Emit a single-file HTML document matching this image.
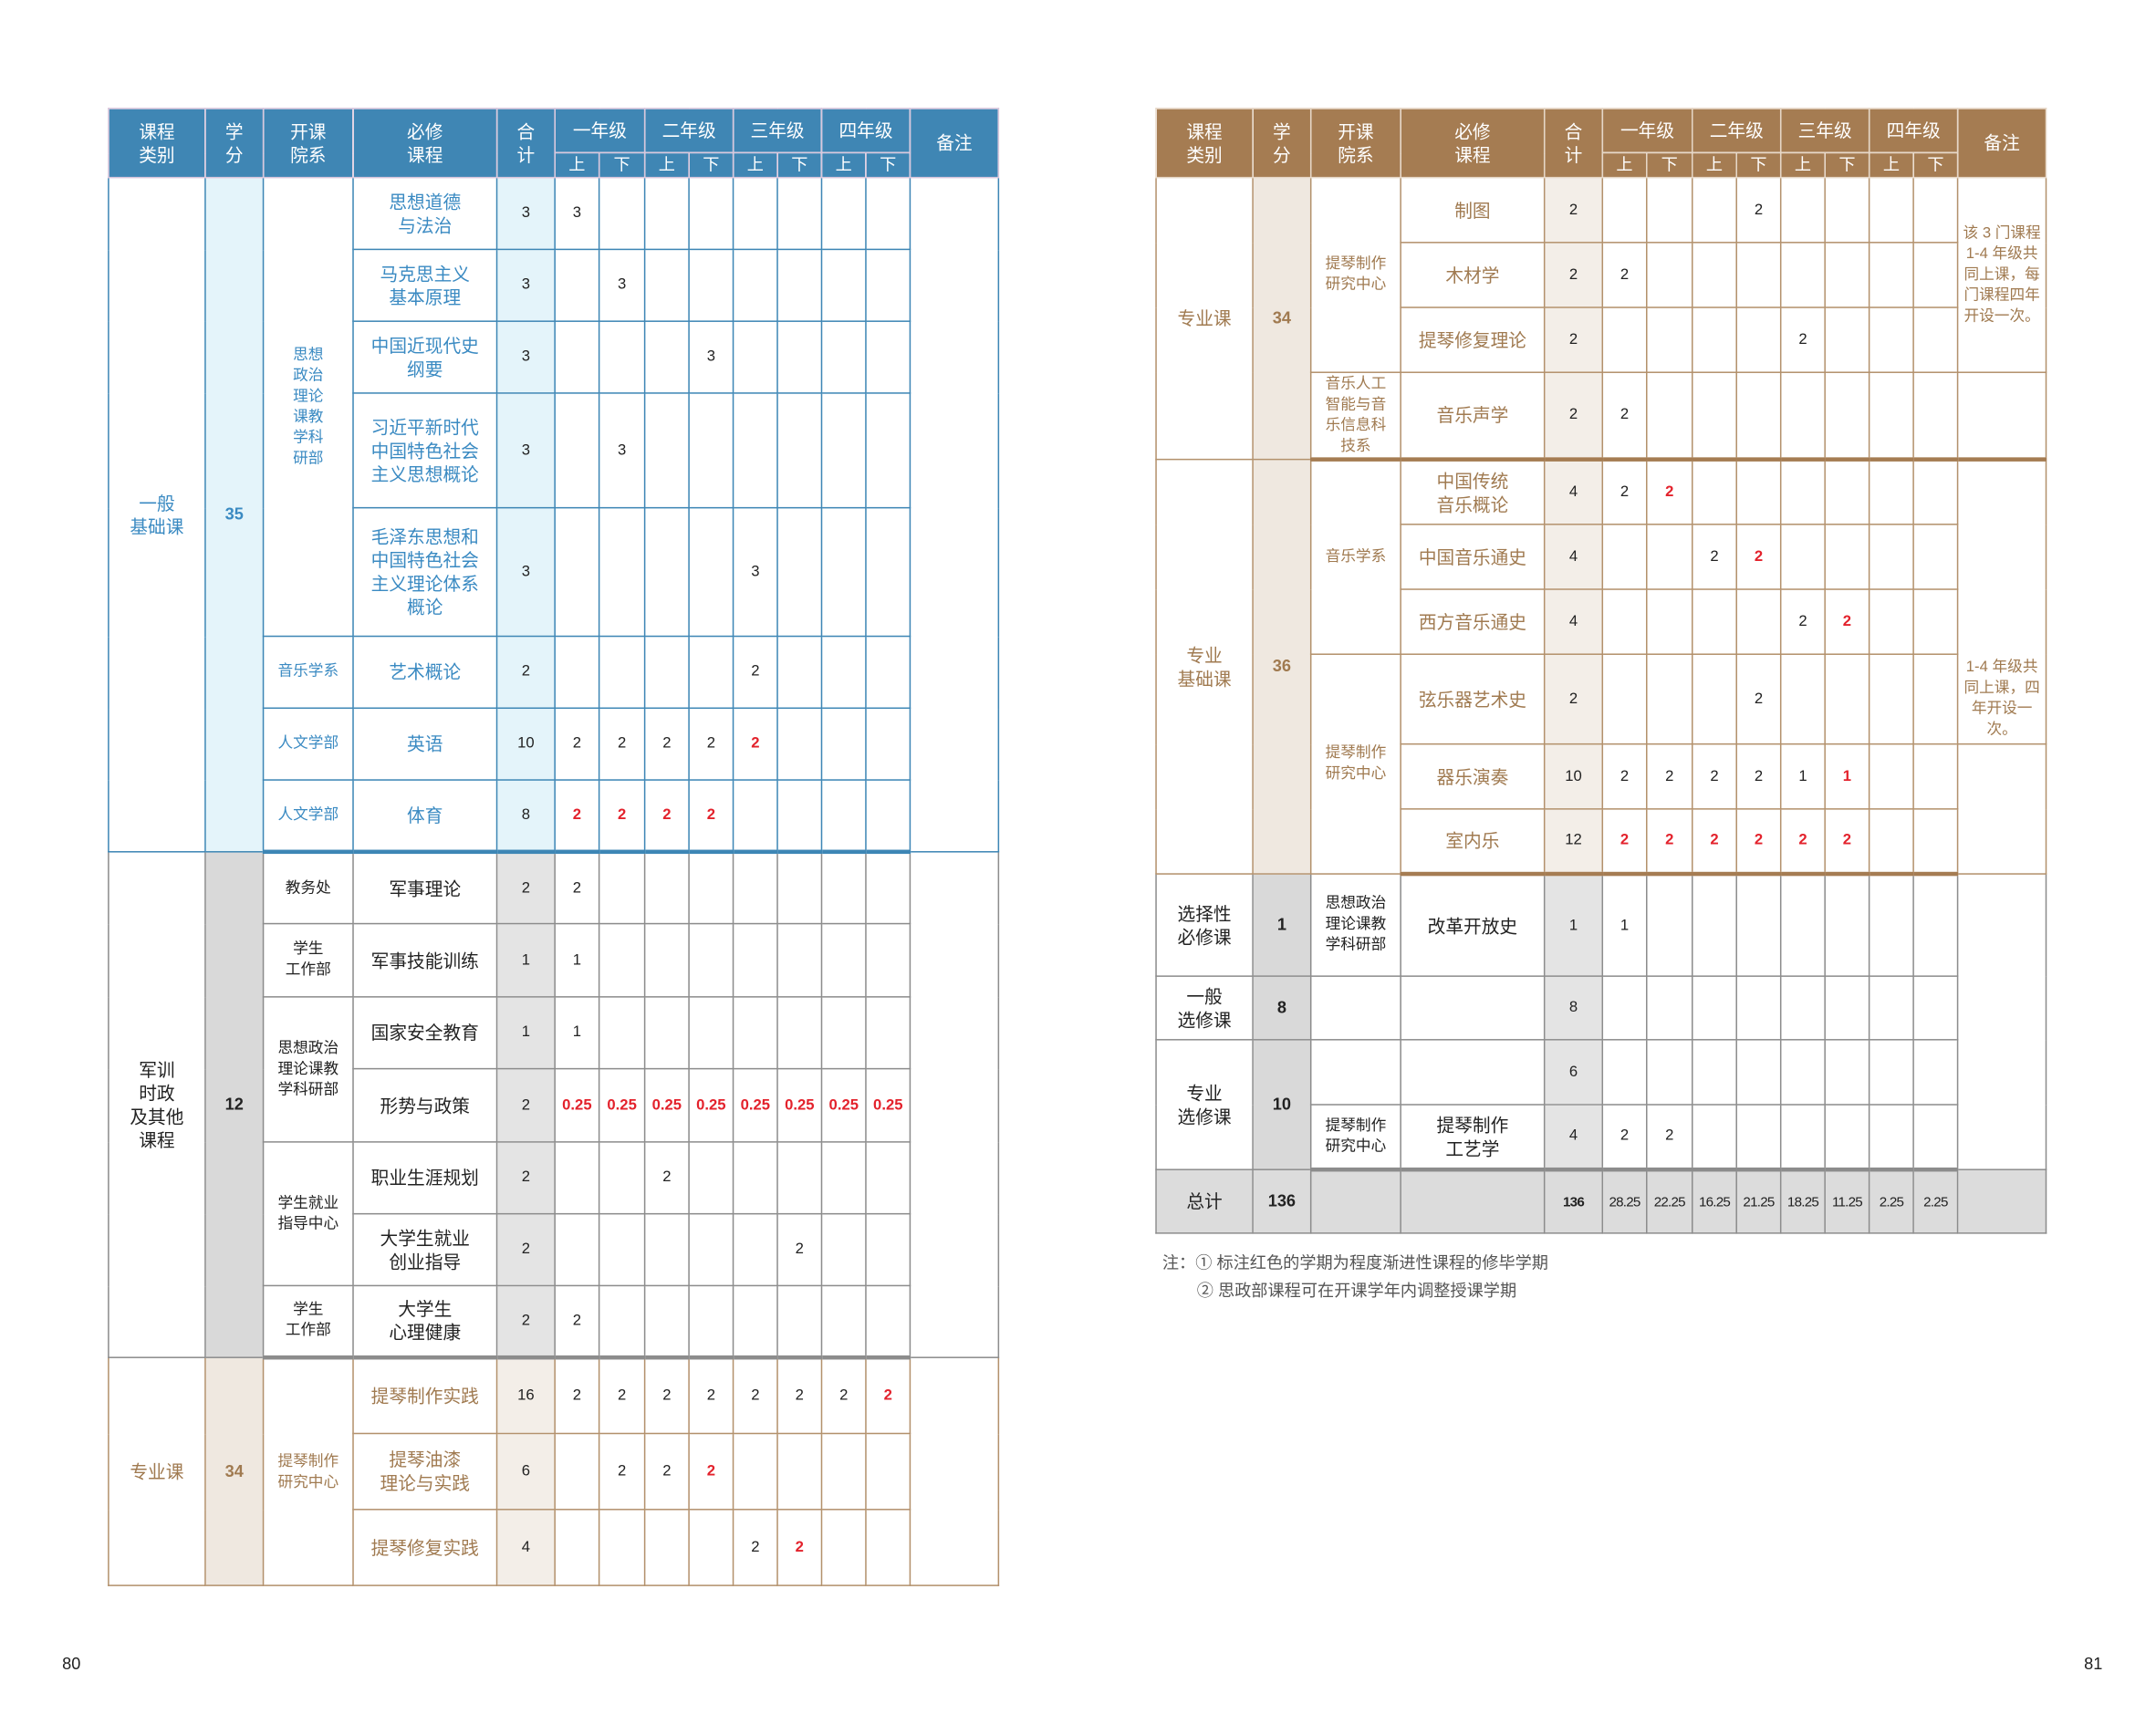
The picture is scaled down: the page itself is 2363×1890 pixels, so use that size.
<!DOCTYPE html>
<html><head><meta charset="utf-8">
<style>
html,body{margin:0;padding:0;background:#fff;width:2363px;height:1890px;overflow:hidden}
#w{position:absolute;left:0;top:0;width:1560px;height:1248px;transform:scale(1.5147);transform-origin:0 0;font-family:"Liberation Sans","Noto Sans CJK SC",sans-serif}
table{position:absolute;border-collapse:collapse;table-layout:fixed}
td{padding:0;text-align:center;vertical-align:middle;font-size:13px;line-height:17px;border:1px solid #3d86b5;overflow:hidden}
.n{font-size:11px}
.d{font-size:11px;line-height:15px}
thead td{background:#3f86b4;color:#fff;border:1px solid #d9c6dc;font-size:13px;line-height:17px}
.br thead td{background:#a57c52;border-color:#e6d7c7}
thead .s{font-size:12px;height:16px}
.B td{border-color:#3d86b5;color:#3a8ac2}
.B td.n{color:#222}
.B .c1{background:#e4f4fa;color:#3a8ac2;font-weight:bold;font-size:12px}
.B .c2{background:#e4f4fa}
.G td{border-color:#8c8c8c;color:#222}
.G .c1{background:#d9d9d9;font-weight:bold;font-size:12px}
.G .c2{background:#e4e4e4}
.N td{border-color:#b3916c;color:#a07a50}
.N td.n{color:#222}
.N .c1{background:#efe8e0;color:#a07a50;font-weight:bold;font-size:12px}
.N .c2{background:#f3eee8}
.T td{background:#dcdcdc;border-color:#8c8c8c;color:#222}
.T .n{font-size:10px;letter-spacing:-0.5px}
td.r{color:#e3222c !important;font-weight:bold}
.B .bb td{border-bottom:3px solid #3d86b5}
.G .bb td{border-bottom:3px solid #8c8c8c}
.N .bb td{border-bottom:3px solid #a57c52}
.pg{position:absolute;font-size:12px;color:#222}
.note{position:absolute;font-size:12px;color:#555;line-height:20px}
</style></head><body><div id="w">

<table style="left:78px;top:78px;width:644px">
<colgroup><col style="width:70px"><col style="width:42px"><col style="width:65px"><col style="width:104px"><col style="width:42px"><col style="width:32px"><col style="width:33px"><col style="width:32px"><col style="width:32px"><col style="width:32px"><col style="width:32px"><col style="width:32px"><col style="width:32px"><col style="width:64px"></colgroup>
<thead>
<tr style="height:32px"><td rowspan="2">课程<br>类别</td><td rowspan="2">学<br>分</td><td rowspan="2">开课<br>院系</td><td rowspan="2">必修<br>课程</td><td rowspan="2">合<br>计</td><td colspan="2">一年级</td><td colspan="2">二年级</td><td colspan="2">三年级</td><td colspan="2">四年级</td><td rowspan="2">备注</td></tr>
<tr style="height:18px"><td class="s">上</td><td class="s">下</td><td class="s">上</td><td class="s">下</td><td class="s">上</td><td class="s">下</td><td class="s">上</td><td class="s">下</td></tr>
</thead>
<tbody class="B">
<tr style="height:52px"><td rowspan="8">一般<br>基础课</td><td rowspan="8" class="c1">35</td><td rowspan="5" class="d">思想<br>政治<br>理论<br>课教<br>学科<br>研部</td><td>思想道德<br>与法治</td><td class="n c2">3</td><td class="n">3</td><td></td><td></td><td></td><td></td><td></td><td></td><td></td><td rowspan="8"></td></tr>
<tr style="height:52px"><td>马克思主义<br>基本原理</td><td class="n c2">3</td><td></td><td class="n">3</td><td></td><td></td><td></td><td></td><td></td><td></td></tr>
<tr style="height:52px"><td>中国近现代史<br>纲要</td><td class="n c2">3</td><td></td><td></td><td></td><td class="n">3</td><td></td><td></td><td></td><td></td></tr>
<tr style="height:83px"><td>习近平新时代<br>中国特色社会<br>主义思想概论</td><td class="n c2">3</td><td></td><td class="n">3</td><td></td><td></td><td></td><td></td><td></td><td></td></tr>
<tr style="height:93px"><td>毛泽东思想和<br>中国特色社会<br>主义理论体系<br>概论</td><td class="n c2">3</td><td></td><td></td><td></td><td></td><td class="n">3</td><td></td><td></td><td></td></tr>
<tr style="height:52px"><td class="d">音乐学系</td><td>艺术概论</td><td class="n c2">2</td><td></td><td></td><td></td><td></td><td class="n">2</td><td></td><td></td><td></td></tr>
<tr style="height:52px"><td class="d">人文学部</td><td>英语</td><td class="n c2">10</td><td class="n">2</td><td class="n">2</td><td class="n">2</td><td class="n">2</td><td class="n r">2</td><td></td><td></td><td></td></tr>
<tr style="height:52px" class="bb"><td class="d">人文学部</td><td>体育</td><td class="n c2">8</td><td class="n r">2</td><td class="n r">2</td><td class="n r">2</td><td class="n r">2</td><td></td><td></td><td></td><td></td></tr>
</tbody>
<tbody class="G">
<tr style="height:52px"><td rowspan="7">军训<br>时政<br>及其他<br>课程</td><td rowspan="7" class="c1">12</td><td class="d">教务处</td><td>军事理论</td><td class="n c2">2</td><td class="n">2</td><td></td><td></td><td></td><td></td><td></td><td></td><td></td><td rowspan="7"></td></tr>
<tr style="height:53px"><td class="d">学生<br>工作部</td><td>军事技能训练</td><td class="n c2">1</td><td class="n">1</td><td></td><td></td><td></td><td></td><td></td><td></td><td></td></tr>
<tr style="height:52px"><td rowspan="2" class="d">思想政治<br>理论课教<br>学科研部</td><td>国家安全教育</td><td class="n c2">1</td><td class="n">1</td><td></td><td></td><td></td><td></td><td></td><td></td><td></td></tr>
<tr style="height:53px"><td>形势与政策</td><td class="n c2">2</td><td class="n r">0.25</td><td class="n r">0.25</td><td class="n r">0.25</td><td class="n r">0.25</td><td class="n r">0.25</td><td class="n r">0.25</td><td class="n r">0.25</td><td class="n r">0.25</td></tr>
<tr style="height:52px"><td rowspan="2" class="d">学生就业<br>指导中心</td><td>职业生涯规划</td><td class="n c2">2</td><td></td><td></td><td class="n">2</td><td></td><td></td><td></td><td></td><td></td></tr>
<tr style="height:52px"><td>大学生就业<br>创业指导</td><td class="n c2">2</td><td></td><td></td><td></td><td></td><td></td><td class="n">2</td><td></td><td></td></tr>
<tr style="height:52px" class="bb"><td class="d">学生<br>工作部</td><td>大学生<br>心理健康</td><td class="n c2">2</td><td class="n">2</td><td></td><td></td><td></td><td></td><td></td><td></td><td></td></tr>
</tbody>
<tbody class="N">
<tr style="height:55px"><td rowspan="3">专业课</td><td rowspan="3" class="c1">34</td><td rowspan="3" class="d">提琴制作<br>研究中心</td><td>提琴制作实践</td><td class="n c2">16</td><td class="n">2</td><td class="n">2</td><td class="n">2</td><td class="n">2</td><td class="n">2</td><td class="n">2</td><td class="n">2</td><td class="n r">2</td><td rowspan="3"></td></tr>
<tr style="height:55px"><td>提琴油漆<br>理论与实践</td><td class="n c2">6</td><td></td><td class="n">2</td><td class="n">2</td><td class="n r">2</td><td></td><td></td><td></td><td></td></tr>
<tr style="height:55px"><td>提琴修复实践</td><td class="n c2">4</td><td></td><td></td><td></td><td></td><td class="n">2</td><td class="n r">2</td><td></td><td></td></tr>
</tbody>
</table>

<table class="br" style="left:836px;top:78px;width:644px">
<colgroup><col style="width:70px"><col style="width:42px"><col style="width:65px"><col style="width:104px"><col style="width:42px"><col style="width:32px"><col style="width:33px"><col style="width:32px"><col style="width:32px"><col style="width:32px"><col style="width:32px"><col style="width:32px"><col style="width:32px"><col style="width:64px"></colgroup>
<thead>
<tr style="height:32px"><td rowspan="2">课程<br>类别</td><td rowspan="2">学<br>分</td><td rowspan="2">开课<br>院系</td><td rowspan="2">必修<br>课程</td><td rowspan="2">合<br>计</td><td colspan="2">一年级</td><td colspan="2">二年级</td><td colspan="2">三年级</td><td colspan="2">四年级</td><td rowspan="2">备注</td></tr>
<tr style="height:18px"><td class="s">上</td><td class="s">下</td><td class="s">上</td><td class="s">下</td><td class="s">上</td><td class="s">下</td><td class="s">上</td><td class="s">下</td></tr>
</thead>
<tbody class="N">
<tr style="height:47px"><td rowspan="4">专业课</td><td rowspan="4" class="c1">34</td><td rowspan="3" class="d">提琴制作<br>研究中心</td><td>制图</td><td class="n c2">2</td><td></td><td></td><td></td><td class="n">2</td><td></td><td></td><td></td><td></td><td rowspan="3" class="d" style="padding:0 3px">该 3 门课程 1-4 年级共同上课，每门课程四年开设一次。</td></tr>
<tr style="height:47px"><td>木材学</td><td class="n c2">2</td><td class="n">2</td><td></td><td></td><td></td><td></td><td></td><td></td><td></td></tr>
<tr style="height:47px"><td>提琴修复理论</td><td class="n c2">2</td><td></td><td></td><td></td><td></td><td class="n">2</td><td></td><td></td><td></td></tr>
<tr style="height:63px" class="bb"><td class="d">音乐人工<br>智能与音<br>乐信息科<br>技系</td><td>音乐声学</td><td class="n c2">2</td><td class="n">2</td><td></td><td></td><td></td><td></td><td></td><td></td><td></td><td></td></tr>
<tr style="height:47px"><td rowspan="6">专业<br>基础课</td><td rowspan="6" class="c1">36</td><td rowspan="3" class="d">音乐学系</td><td>中国传统<br>音乐概论</td><td class="n c2">4</td><td class="n">2</td><td class="n r">2</td><td></td><td></td><td></td><td></td><td></td><td></td><td rowspan="4" class="d" style="vertical-align:bottom;padding:0 3px 2px">1-4 年级共同上课，四年开设一次。</td></tr>
<tr style="height:47px"><td>中国音乐通史</td><td class="n c2">4</td><td></td><td></td><td class="n">2</td><td class="n r">2</td><td></td><td></td><td></td><td></td></tr>
<tr style="height:47px"><td>西方音乐通史</td><td class="n c2">4</td><td></td><td></td><td></td><td></td><td class="n">2</td><td class="n r">2</td><td></td><td></td></tr>
<tr style="height:65px"><td rowspan="3" class="d">提琴制作<br>研究中心</td><td>弦乐器艺术史</td><td class="n c2">2</td><td></td><td></td><td></td><td class="n">2</td><td></td><td></td><td></td><td></td></tr>
<tr style="height:47px"><td>器乐演奏</td><td class="n c2">10</td><td class="n">2</td><td class="n">2</td><td class="n">2</td><td class="n">2</td><td class="n">1</td><td class="n r">1</td><td></td><td></td><td rowspan="2"></td></tr>
<tr style="height:47px" class="bb"><td>室内乐</td><td class="n c2">12</td><td class="n r">2</td><td class="n r">2</td><td class="n r">2</td><td class="n r">2</td><td class="n r">2</td><td class="n r">2</td><td></td><td></td></tr>
</tbody>
<tbody class="G">
<tr style="height:74px"><td>选择性<br>必修课</td><td class="c1">1</td><td class="d">思想政治<br>理论课教<br>学科研部</td><td>改革开放史</td><td class="n c2">1</td><td class="n">1</td><td></td><td></td><td></td><td></td><td></td><td></td><td></td><td rowspan="4"></td></tr>
<tr style="height:46px"><td>一般<br>选修课</td><td class="c1">8</td><td></td><td></td><td class="n c2">8</td><td></td><td></td><td></td><td></td><td></td><td></td><td></td><td></td></tr>
<tr style="height:47px"><td rowspan="2">专业<br>选修课</td><td rowspan="2" class="c1">10</td><td></td><td></td><td class="n c2">6</td><td></td><td></td><td></td><td></td><td></td><td></td><td></td><td></td></tr>
<tr style="height:47px" class="bb"><td class="d">提琴制作<br>研究中心</td><td>提琴制作<br>工艺学</td><td class="n c2">4</td><td class="n">2</td><td class="n">2</td><td></td><td></td><td></td><td></td><td></td><td></td></tr>
</tbody>
<tbody class="T">
<tr style="height:46px"><td>总计</td><td style="font-weight:bold;font-size:12px">136</td><td></td><td></td><td class="n" style="font-weight:bold">136</td><td class="n">28.25</td><td class="n">22.25</td><td class="n">16.25</td><td class="n">21.25</td><td class="n">18.25</td><td class="n">11.25</td><td class="n">2.25</td><td class="n">2.25</td><td></td></tr>
</tbody>
</table>

<div class="note" style="left:841px;top:904px">注：① 标注红色的学期为程度渐进性课程的修毕学期</div>
<div class="note" style="left:866px;top:924px">② 思政部课程可在开课学年内调整授课学期</div>
<div class="pg" style="left:45px;top:1197px">80</div>
<div class="pg" style="left:1508px;top:1197px">81</div>
</div></body></html>
